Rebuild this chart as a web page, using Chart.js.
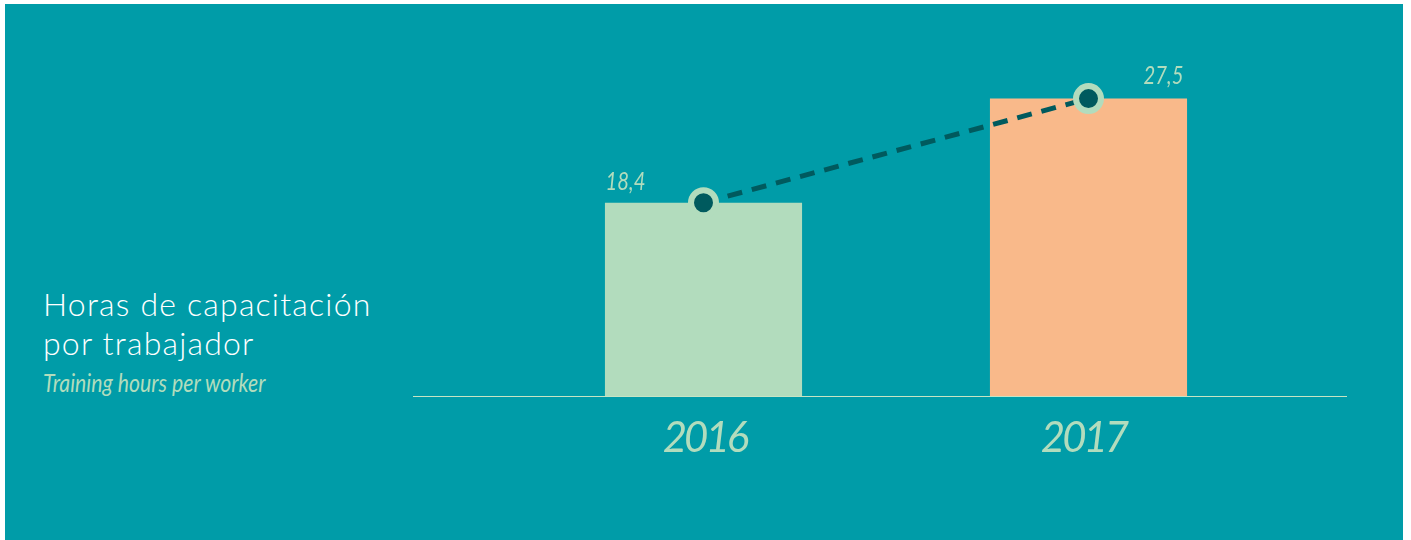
<!DOCTYPE html>
<html>
<head>
<meta charset="utf-8">
<script src="https://cdn.jsdelivr.net/npm/chart.js@4"></script>
<style>
  html, body { margin: 0; padding: 0; background: #fff; }
  .panel {
    position: absolute; left: 5px; top: 4px; width: 1398px; height: 536px;
    background: #009ca8; overflow: hidden;
  }
  .title {
    position: absolute; left: 38px; top: 280px; color: #fff;
    font-family: Lato, "Open Sans", sans-serif; font-weight: 300;
    font-size: 32px; line-height: 39px; letter-spacing: 1.2px;
  }
  .subtitle {
    position: absolute; left: 38px; top: 363px; color: #b2dcbd;
    font-family: Lato, "Open Sans", sans-serif;
    font-style: italic; font-size: 25px; white-space: nowrap;
    transform: scaleX(0.85); transform-origin: left top;
  }
  canvas { position: absolute; left: 0; top: 0; }
</style>
</head>
<body>
<div class="panel">
  <div class="title">Horas de capacitación<br>por trabajador</div>
  <div class="subtitle">Training hours per worker</div>
  <canvas id="myChart" width="1398" height="536"></canvas>
</div>
<script>
// data
const years = ['2016', '2017'];
const hours = [18.4, 27.5];
const hourLabels = ['18,4', '27,5'];
const barColors = ['#b2dcbd', '#f9b98a'];

// axis line, year labels and value labels
const decorPlugin = {
    id: 'decor',
    afterDraw(chart) {
        const ctx = chart.ctx;
        const area = chart.chartArea;
        const x = chart.scales.x;
        const y = chart.scales.y;

        ctx.save();
        // baseline
        ctx.strokeStyle = '#c6e4c4';
        ctx.lineWidth = 1;
        ctx.beginPath();
        ctx.moveTo(area.left - 98, area.bottom + 0.5);
        ctx.lineTo(area.right + 66, area.bottom + 0.5);
        ctx.stroke();

        // year labels
        ctx.fillStyle = '#b2dcbd';
        ctx.textAlign = 'center';
        ctx.textBaseline = 'alphabetic';
        ctx.font = 'italic 42px Lato, "Open Sans", sans-serif';
        ctx.letterSpacing = '-3px';
        const yearShift = [1, -5];
        years.forEach((yr, i) => {
            ctx.fillText(yr, x.getPixelForValue(i) + yearShift[i], area.bottom + 56);
        });

        // value labels, condensed by a horizontal squeeze
        ctx.letterSpacing = '0px';
        ctx.font = 'italic 26px Lato, "Open Sans", sans-serif';
        const dx = [-78, 75];
        const dy = [-13, -15];
        hours.forEach((v, i) => {
            ctx.save();
            ctx.translate(x.getPixelForValue(i) + dx[i], y.getPixelForValue(v) + dy[i]);
            ctx.scale(0.78, 1);
            ctx.fillText(hourLabels[i], 0, 0);
            ctx.restore();
        });
        ctx.restore();
    }
};

const ctx = document.getElementById('myChart').getContext('2d');
window.myChart = new Chart(ctx, {
    data: {
        labels: years,
        datasets: [{
            type: 'line',
            data: hours,
            borderColor: '#005a5e',
            borderWidth: 5,
            borderDash: [15, 10],
            pointRadius: 12.5,
            pointBorderWidth: 6,
            pointBackgroundColor: '#005a5e',
            pointBorderColor: '#b2dcbd',
            pointHoverRadius: 12.5,
            order: 0
        }, {
            type: 'bar',
            data: hours,
            backgroundColor: barColors,
            barPercentage: 0.512,
            categoryPercentage: 1,
            order: 1
        }]
    },
    options: {
        responsive: false,
        animation: false,
        layout: { padding: { left: 506, right: 122, top: 66, bottom: 144 } },
        scales: {
            x: { display: false },
            y: { display: false, min: 1.5, max: 30 }
        },
        plugins: {
            legend: { display: false },
            tooltip: { enabled: false }
        }
    },
    plugins: [decorPlugin]
});
</script>
</body>
</html>
